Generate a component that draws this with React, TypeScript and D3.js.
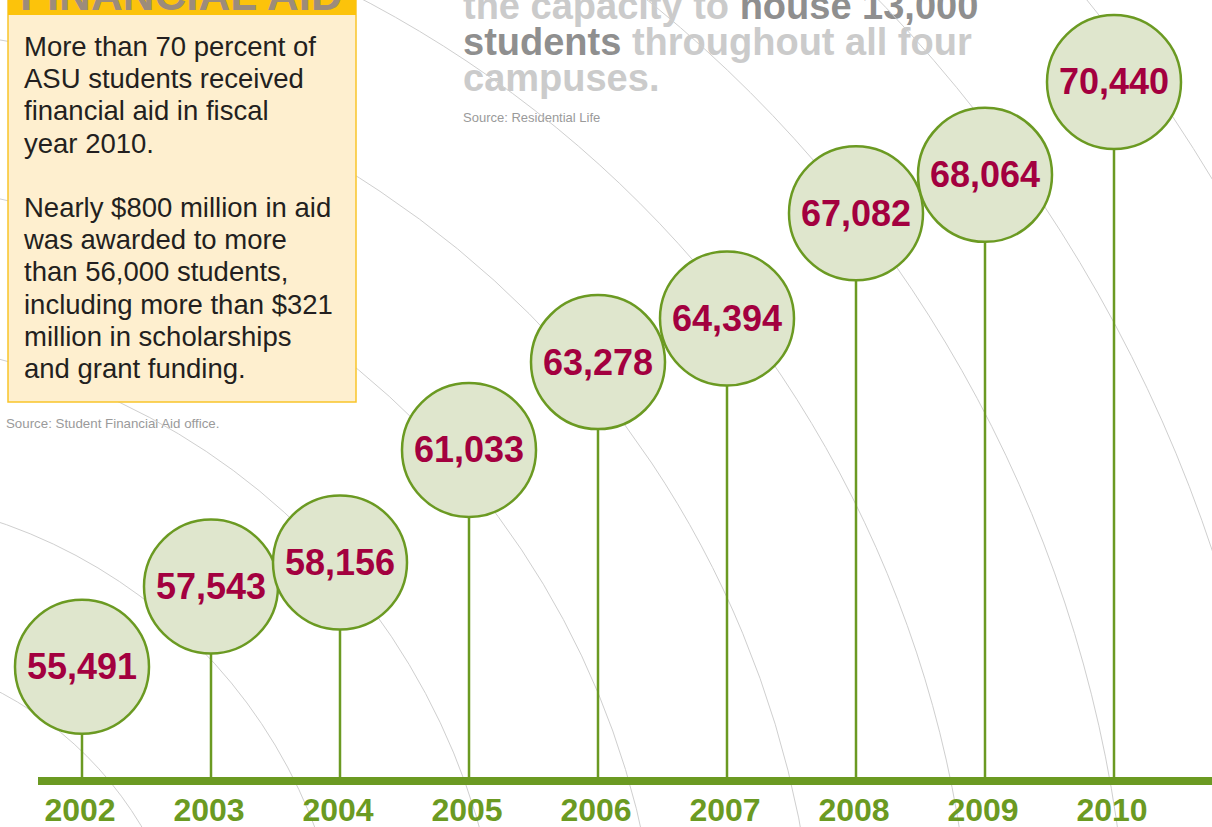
import * as d3 from 'd3';

// enrollment by fiscal year
const years: number[] = [2002, 2003, 2004, 2005, 2006, 2007, 2008, 2009, 2010];
const enrollment: number[] = [55491, 57543, 58156, 61033, 63278, 64394, 67082, 68064, 70440];

const aidLines: string[] = [
  'More than 70 percent of',
  'ASU students received',
  'financial aid in fiscal',
  'year 2010.',
  '',
  'Nearly $800 million in aid',
  'was awarded to more',
  'than 56,000 students,',
  'including more than $321',
  'million in scholarships',
  'and grant funding.',
];

// [text, dark?] pieces per line
const housingLines: [string, boolean][][] = [
  [['the capacity to ', false], ['house 13,000', true]],
  [['students', true], [' throughout all four', false]],
  [['campuses.', false]],
];

const W = 1212;
const H = 827;
const GREEN = '#6b9a22';
const baseY = 781;
const R = 67;

export default function App() {
  const x = d3.scaleLinear().domain([2002, 2010]).range([82, 1114]);
  const y = d3.scaleLinear().domain([55000, 71000]).range([686, 60]);
  const fmt = d3.format(',');

  // faint background ripples
  const rings = d3.range(9).map((i) => 359 + i * 156.4);

  return (
    <svg
      width={W}
      height={H}
      style={{ position: 'absolute', left: 0, top: 0, display: 'block', background: '#fff' }}
      fontFamily="'Liberation Sans', Arial, Helvetica, sans-serif"
    >
      {/* housing blurb */}
      <g fontWeight="bold" fontSize={38}>
        {housingLines.map((line, i) => (
          <text key={i} x={463} y={19 + i * 36}>
            {line.map(([t, dark], j) => (
              <tspan key={j} fill={dark ? '#8f8f8f' : '#cbcbcb'}>
                {t}
              </tspan>
            ))}
          </text>
        ))}
      </g>
      <text x={463} y={122} fontSize={13} fill="#9a9a9a">
        Source: Residential Life
      </text>
      <text x={6} y={428} fontSize={13.3} fill="#9a9a9a">
        Source: Student Financial Aid office.
      </text>

      <g fill="none" stroke="#cfcfcf" strokeWidth={1}>
        {rings.map((r, i) => (
          <circle key={i} cx={-167} cy={1010} r={r} />
        ))}
      </g>

      {/* financial aid box */}
      <rect x={8} y={0} width={348} height={402} fill="#feefcf" stroke="#f9c52a" strokeWidth={1.5} />
      <rect x={8} y={0} width={348} height={15} fill="#fcc30b" />
      <text x={20} y={10} fontSize={44} fontWeight="bold" fill="#9c8c7b">
        FINANCIAL AID
      </text>
      <g fontSize={27.5} fill="#231f20">
        {aidLines.map((l, i) => (
          <text key={i} x={24} y={56 + i * 32.2}>
            {l}
          </text>
        ))}
      </g>

      {/* baseline */}
      <rect x={38} y={baseY - 4} width={W - 38} height={8} fill={GREEN} />

      {years.map((yr, i) => {
        const cx = x(yr);
        const cy = y(enrollment[i]);
        return (
          <g key={yr}>
            <line x1={cx} x2={cx} y1={cy + R} y2={baseY - 4} stroke={GREEN} strokeWidth={2.5} />
            <circle cx={cx} cy={cy} r={R} fill="#dfe6cd" stroke={GREEN} strokeWidth={2.5} />
            <text
              x={cx}
              y={cy + 12.5}
              textAnchor="middle"
              fontSize={36}
              fontWeight="bold"
              fill="#a3003f"
            >
              {fmt(enrollment[i])}
            </text>
            <text x={cx - 2} y={821} textAnchor="middle" fontSize={32} fontWeight="bold" fill={GREEN}>
              {yr}
            </text>
          </g>
        );
      })}
    </svg>
  );
}
